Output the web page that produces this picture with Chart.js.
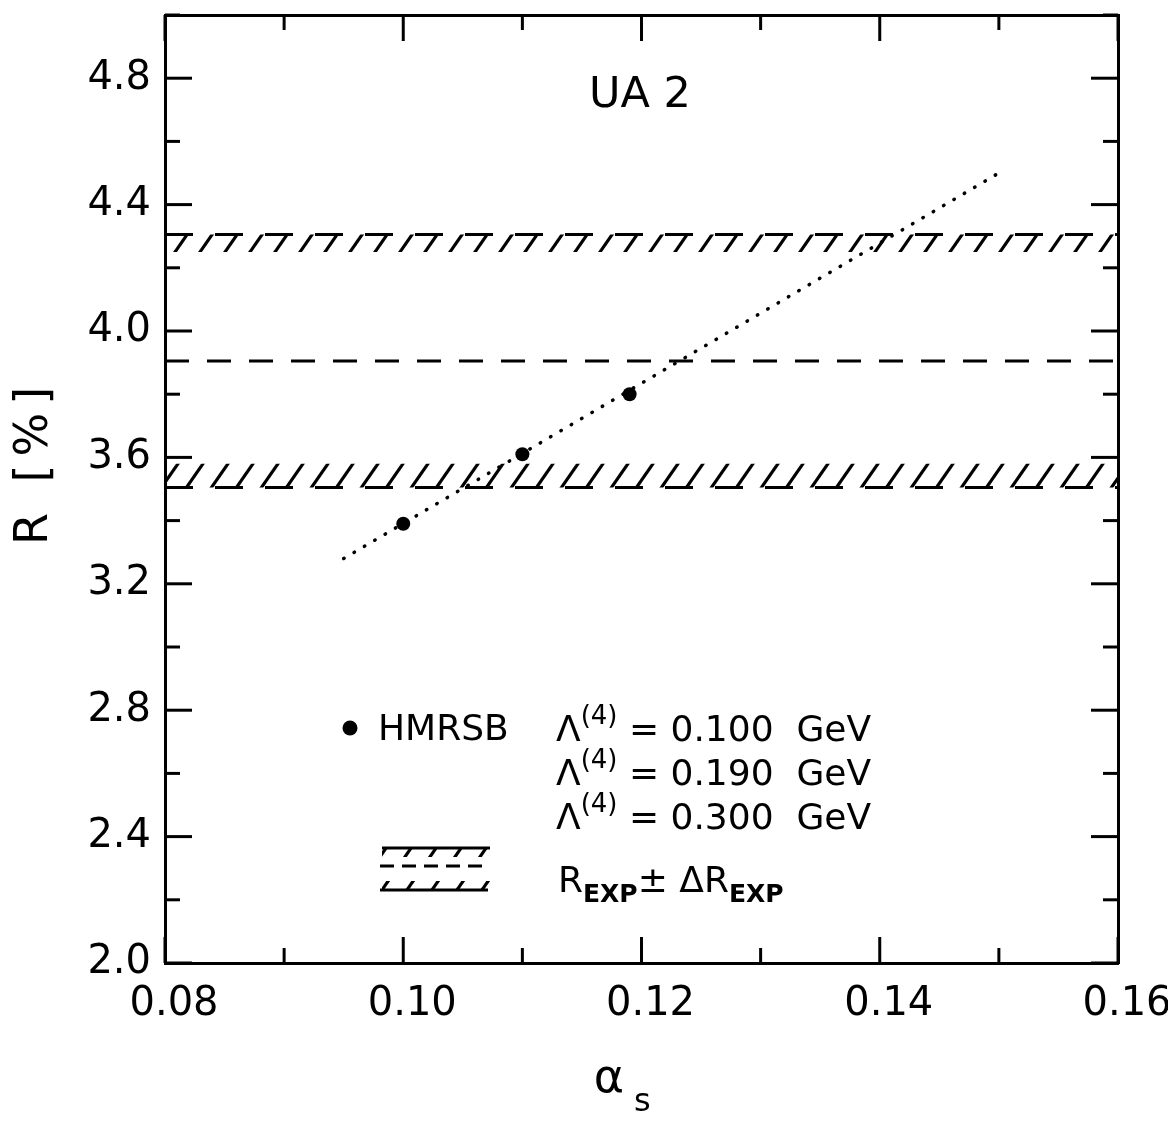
<!DOCTYPE html>
<html><head><meta charset="utf-8">
<script src="https://cdn.jsdelivr.net/npm/chart.js@4.4.0/dist/chart.umd.min.js"></script>
<style>html,body{margin:0;padding:0;background:#fff}#wrap{width:1168px;height:1122px;position:relative}</style>
</head><body><div id="wrap"><canvas id="c"></canvas></div>
<script>
// ---- data ----
const alphaS = [0.100, 0.110, 0.119];
const rHMRSB = [3.39, 3.61, 3.80];
const lambdaGeV = ['0.100', '0.190', '0.300'];
const fitAlpha = [0.095, 0.150];
const fitR = [3.28, 4.50];
const rExp = 3.905;
const rExpErr = 0.40;
const xTickLabels = ['0.08', '0.10', '0.12', '0.14', '0.16'];
const yTickLabels = ['2.0', '2.4', '2.8', '3.2', '3.6', '4.0', '4.4', '4.8'];
const xRange = [0.08, 0.16];
const yRange = [2.0, 5.0];

const FONT = '"DejaVu Sans", sans-serif';
const canvas = document.getElementById('c');
const cctx = canvas.getContext('2d');

function hatchPattern(ctx) {
  const w = 25, h = 36;
  const t = document.createElement('canvas');
  t.width = w; t.height = h;
  const g = t.getContext('2d');
  g.strokeStyle = '#000'; g.lineWidth = 3.2;
  for (const off of [-w, 0, w]) {
    g.beginPath(); g.moveTo(off - w, 2 * h); g.lineTo(off + 2 * w, -h); g.stroke();
  }
  return ctx.createPattern(t, 'repeat');
}
const hatch = hatchPattern(cctx);

const upperTop = rExp + rExpErr, lowerBot = rExp - rExpErr;
const bandPts = (y) => xRange.map(x => ({x, y}));

const decor = {
  id: 'decor',
  afterDraw(chart) {
    const {ctx, chartArea: a, scales} = chart;
    ctx.save();
    ctx.strokeStyle = '#000'; ctx.fillStyle = '#000'; ctx.lineWidth = 3;
    const ln = (x1, y1, x2, y2) => { ctx.beginPath(); ctx.moveTo(x1, y1); ctx.lineTo(x2, y2); ctx.stroke(); };
    const xs = scales.x, ys = scales.y;
    xs.ticks.forEach(t => {
      const p = xs.getPixelForValue(t.value);
      const L = xTickLabels.includes(Number(t.value).toFixed(2)) ? 26 : 15;
      ln(p, a.bottom, p, a.bottom - L); ln(p, a.top, p, a.top + L);
    });
    ys.ticks.forEach(t => {
      const p = ys.getPixelForValue(t.value);
      const L = yTickLabels.includes(Number(t.value).toFixed(1)) ? 27 : 15;
      ln(a.left, p, a.left + L, p); ln(a.right, p, a.right - L, p);
    });

    ctx.textBaseline = 'alphabetic';
    ctx.textAlign = 'center';
    ctx.font = '43px ' + FONT;
    ctx.fillText('UA 2', 640, 107);

    ctx.font = '46px ' + FONT;
    ctx.fillText('\u03b1', 609, 1092);
    ctx.font = '32px ' + FONT;
    ctx.textAlign = 'left';
    ctx.fillText('s', 634, 1111);

    ctx.save();
    ctx.translate(31, 466); ctx.rotate(-Math.PI / 2);
    ctx.textAlign = 'center';
    ctx.font = '46px ' + FONT;
    ctx.letterSpacing = '8px';
    ctx.fillText('R [%]', 4, 16);
    ctx.restore();

    const rich = (parts, x, base) => {
      ctx.textAlign = 'left';
      parts.forEach(p => {
        ctx.font = (p.w || '') + ' ' + p.s + 'px ' + FONT;
        ctx.fillText(p.t, x, base + (p.dy || 0));
        x += ctx.measureText(p.t).width;
      });
    };
    ctx.beginPath(); ctx.arc(350, 728, 7.5, 0, Math.PI * 2); ctx.fill();
    rich([{t: 'HMRSB', s: 36}], 378, 740);
    lambdaGeV.forEach((v, i) => {
      rich([{t: '\u039b', s: 36}, {t: '(4)', s: 26, dy: -17}, {t: ' = ' + v + '  GeV', s: 36}], 556, 741 + i * 44);
    });
    rich([{t: 'R', s: 36}, {t: 'EXP', s: 25, w: 'bold', dy: 10}, {t: '\u00b1 \u0394', s: 36}, {t: 'R', s: 36}, {t: 'EXP', s: 25, w: 'bold', dy: 10}], 558, 892);

    ctx.fillStyle = hatch;
    ctx.fillRect(382, 848, 108, 9);
    ctx.fillRect(382, 881, 108, 9);
    ctx.lineWidth = 3;
    ln(382, 848, 490, 848);
    ln(380, 890, 488, 890);
    ctx.setLineDash([14, 8]);
    ln(380, 866, 490, 866);
    ctx.restore();
  }
};

const axisBase = (pos, min, max) => ({
  type: 'linear', position: pos, min, max,
  grid: {display: false, drawTicks: false},
  border: {display: true, color: '#000', width: 3},
});
const noPad = s => { s.paddingLeft = 0; s.paddingRight = 0; s.paddingTop = 0; s.paddingBottom = 0; };

new Chart(canvas, {
  type: 'scatter',
  data: {
    datasets: [
      {
        data: bandPts(upperTop), showLine: true, pointRadius: 0,
        borderColor: '#000', borderWidth: 3, borderDash: [28, 22],
        backgroundColor: hatch, fill: {value: upperTop - 0.055}
      },
      {
        data: bandPts(lowerBot), showLine: true, pointRadius: 0,
        borderColor: '#000', borderWidth: 3, borderDash: [28, 22],
        backgroundColor: hatch, fill: {value: lowerBot + 0.075}
      },
      {
        data: bandPts(rExp), showLine: true, pointRadius: 0,
        borderColor: '#000', borderWidth: 3, borderDash: [24, 18], fill: false
      },
      {
        data: fitAlpha.map((x, i) => ({x, y: fitR[i]})), showLine: true, pointRadius: 0,
        borderColor: '#000', borderWidth: 3.5, borderDash: [0.5, 11.5], borderCapStyle: 'round', fill: false
      },
      {
        data: alphaS.map((x, i) => ({x, y: rHMRSB[i]})), showLine: false,
        pointRadius: 7, pointHoverRadius: 7, backgroundColor: '#000', borderColor: '#000', borderWidth: 0
      }
    ]
  },
  options: {
    responsive: true, maintainAspectRatio: false, animation: false,
    layout: {padding: 0},
    plugins: {legend: {display: false}, tooltip: {enabled: false}},
    events: [],
    scales: {
      x: Object.assign(axisBase('bottom', xRange[0], xRange[1]), {
        ticks: {stepSize: 0.01, autoSkip: false, maxRotation: 0, color: '#000', padding: 18, labelOffset: 9,
          font: {family: FONT, size: 40},
          callback: v => { const s = Number(v).toFixed(2); return xTickLabels.includes(s) ? s : ''; }},
        afterFit: s => { s.height = 159; noPad(s); }
      }),
      x2: Object.assign(axisBase('top', xRange[0], xRange[1]), {
        ticks: {display: false}, afterFit: s => { s.height = 15; noPad(s); }
      }),
      y: Object.assign(axisBase('left', yRange[0], yRange[1]), {
        ticks: {stepSize: 0.2, autoSkip: false, color: '#000', padding: 14,
          font: {family: FONT, size: 40},
          callback: v => { const s = Number(v).toFixed(1); return yTickLabels.includes(s) ? s : ''; }},
        afterFit: s => { s.width = 165; noPad(s); }
      }),
      y2: Object.assign(axisBase('right', yRange[0], yRange[1]), {
        ticks: {display: false}, afterFit: s => { s.width = 50; noPad(s); }
      })
    }
  },
  plugins: [decor]
});
</script></body></html>
